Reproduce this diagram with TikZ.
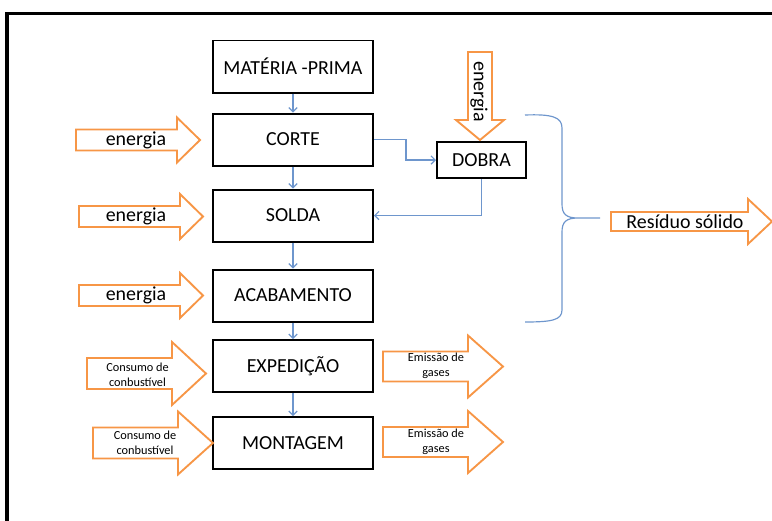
\documentclass[tikz,border=0pt]{standalone}
\usepackage{fontspec}
\setmainfont{Carlito}
\usetikzlibrary{arrows.meta}
\definecolor{arrorange}{RGB}{247,150,70}
\definecolor{linkblue}{RGB}{110,150,205}
\tikzset{
  stage/.style={draw,line width=1.7pt,minimum width=4.8cm,minimum height=1.56cm,inner sep=0pt,font=\fontsize{17}{20}\selectfont},
  flow/.style={->,draw=linkblue,line width=1pt},
  blk/.style={draw=arrorange,line width=1.6pt,fill=white,line join=miter},
  lbl/.style={inner sep=0pt,font=\fontsize{17}{20}\selectfont},
  tiny/.style={inner sep=0pt,align=center,font=\fontsize{10.5}{13}\selectfont}
}
% block arrow: left x, head x, tip x, centre y, half shaft, half head
\newcommand\blockarrow[6]{%
  \draw[blk] (#1,#4-#5)--(#2,#4-#5)--(#2,#4-#6)--(#3,#4)--(#2,#4+#6)--(#2,#4+#5)--(#1,#4+#5)--cycle;}
\begin{document}
\begin{tikzpicture}[x=0.03cm,y=-0.03cm,>={Straight Barb[length=3.5pt,width=7pt]}]
  \useasboundingbox (0,0) rectangle (772,520);
  \draw[line width=2.6pt] (7,530)--(7,13.5)--(780,13.5);
  % process boxes
  \node[stage] (mp) at (293,66.5) {MATÉRIA -PRIMA};
  \node[stage] (corte) at (293,139.5) {CORTE};
  \node[stage] (solda) at (293,215.5) {SOLDA};
  \node[stage] (acab) at (293,295.5) {ACABAMENTO};
  \node[stage] (exped) at (293,366) {EXPEDIÇÃO};
  \node[stage] (mont) at (293,443) {MONTAGEM};
  \node[stage,minimum width=2.67cm,minimum height=1.08cm] (dobra) at (481.5,160) {DOBRA};
  % flow
  \draw[flow] (mp)--(corte);
  \draw[flow] (corte)--(solda);
  \draw[flow] (solda)--(acab);
  \draw[flow] (acab)--(exped);
  \draw[flow] (exped)--(mont);
  \draw[flow] (corte.east)--++(32,0) |- (dobra.west);
  \draw[flow] (dobra.south) |- (solda.east);
  % inputs
  \blockarrow{76}{177}{200}{140}{10.5}{22.5}
  \node[lbl] (en1) at (136,140) {energia};
  \blockarrow{79}{180}{203}{216.5}{10.5}{22.5}
  \node[lbl] (en2) at (136,216.5) {energia};
  \blockarrow{79}{180}{203}{295.5}{10.5}{22.5}
  \node[lbl] (en3) at (136,295.5) {energia};
  \draw[blk] (468,52)--(492,52)--(492,120)--(504,120)--(480,140)--(456,120)--(468,120)--cycle;
  \node[lbl,rotate=-90] (en4) at (479,91.5) {energia};
  \blockarrow{87}{172}{206}{373.5}{15.5}{31.5}
  \node[tiny] (cons1) at (137.5,375) {Consumo de\\conbustível};
  \blockarrow{93}{178}{213}{443}{15.5}{31.5}
  \node[tiny] (cons2) at (145,442.5) {Consumo de\\conbustível};
  % outputs
  \blockarrow{383}{468}{503}{366.5}{15}{31}
  \node[tiny] (gas1) at (436,366) {Emissão de\\gases};
  \blockarrow{383}{468}{503}{442}{15}{31}
  \node[tiny] (gas2) at (436,442) {Emissão de\\gases};
  % brace
  \coordinate (brtip) at (600,218);
  \draw[linkblue,line width=1pt] (525,115) .. controls (552,114) and (562,117) .. (562,128)
    -- (562,204) .. controls (562,214) and (566,218) .. (578,218) -- (brtip)
    (578,218) .. controls (566,218) and (562,222) .. (562,232)
    -- (562,310) .. controls (562,320) and (552,322) .. (525,322);
  \blockarrow{611}{748}{772}{221.5}{9.5}{22.5}
  \node[lbl] (res) at (685,222) {Resíduo sólido};
\end{tikzpicture}
\end{document}
